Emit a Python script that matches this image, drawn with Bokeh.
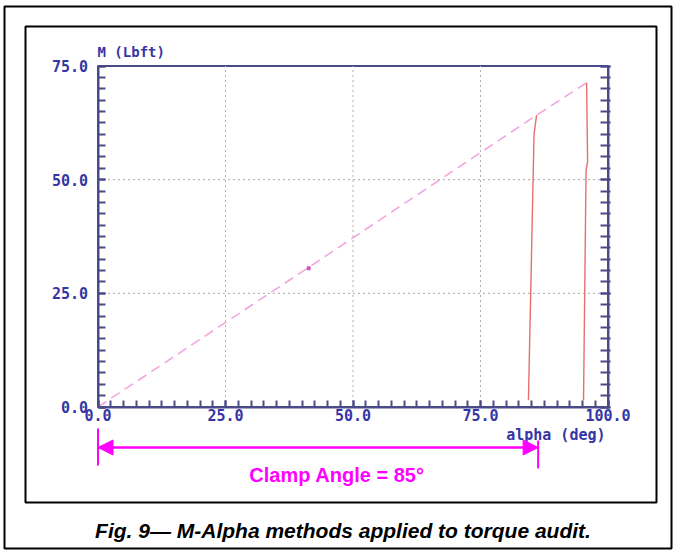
from bokeh.plotting import figure
from bokeh.models import (Range1d, SingleIntervalTicker, NumeralTickFormatter, LinearAxis,
                          Label, Arrow, NormalHead)
from bokeh.embed import file_html
from bokeh.resources import INLINE

# ---- data ----
alpha_ramp = [0.0, 41.3, 86.0, 95.8]          # dashed loading line
m_ramp = [0.0, 30.7, 64.2, 71.3]
alpha_clamp85 = [86.0, 85.5, 84.4]            # unloading at clamp angle ~85
m_clamp85 = [64.2, 60.0, 1.5]
alpha_clamp96 = [95.8, 96.0, 95.7, 95.2]      # unloading at full angle
m_clamp96 = [71.3, 54.0, 52.0, 1.5]
marker_alpha = [41.3]
marker_m = [30.5]
grid_alpha = [25.0, 50.0, 75.0]
grid_m = [25.0, 50.0]
alpha_limits = [0.0, 100.0]
m_limits = [0.0, 75.0]
clamp_start = 0.0
clamp_end = 86.3
x_label = "alpha (deg)"
y_label = "M (Lbft)"
clamp_text = "Clamp Angle = 85°"
caption = "Fig. 9— M-Alpha methods applied to torque audit."

# ---- layout (pixels) ----
W, H = 673, 550
PX_X0, PX_X1 = 97.5, 607.5      # alpha = 0 / 100
PX_Y0, PX_Y1 = 406.5, 65.5      # M = 0 / 75
sx = (PX_X1 - PX_X0) / (alpha_limits[1] - alpha_limits[0])
sy = (PX_Y0 - PX_Y1) / (m_limits[1] - m_limits[0])


def dx(px):
    return alpha_limits[0] + (px - PX_X0) / sx


def dy(py):
    return m_limits[0] + (PX_Y0 - py) / sy


NAVY = "#3535a5"
AXIS = "#4a4a88"
MAG = "#ff00ff"
MONO = "DejaVu Sans Mono"

p = figure(width=W, height=H, title=None,
           x_range=Range1d(dx(0), dx(W)), y_range=Range1d(dy(H), dy(0)),
           output_backend="svg", toolbar_location=None,
           min_border_left=0, min_border_right=0, min_border_top=0, min_border_bottom=0,
           background_fill_color="white", border_fill_color="white")
p.outline_line_color = None
p.xgrid.visible = False
p.ygrid.visible = False

xt = SingleIntervalTicker(interval=25, num_minor_ticks=10)
yt = SingleIntervalTicker(interval=25, num_minor_ticks=10)
fmt = NumeralTickFormatter(format="0.0")


def style_axis(ax):
    ax.axis_line_color = AXIS
    ax.axis_line_width = 2
    ax.major_tick_line_color = AXIS
    ax.minor_tick_line_color = AXIS
    ax.major_tick_line_width = 2
    ax.minor_tick_line_width = 2
    ax.major_tick_in = 7
    ax.major_tick_out = 0
    ax.minor_tick_in = 7
    ax.minor_tick_out = 0
    ax.major_label_text_font = MONO
    ax.major_label_text_font_style = "bold"
    ax.major_label_text_font_size = "15px"
    ax.major_label_text_color = NAVY


xa = p.xaxis[0]
ya = p.yaxis[0]
xa.ticker, xa.formatter = xt, fmt
ya.ticker, ya.formatter = yt, fmt
xa.fixed_location = m_limits[0]
ya.fixed_location = alpha_limits[0]
xa.bounds = tuple(alpha_limits)
ya.bounds = tuple(m_limits)
style_axis(xa)
style_axis(ya)
xa.major_label_standoff = 2
ya.major_label_standoff = 10
ya.major_label_text_baseline = "alphabetic"

ra = LinearAxis(ticker=SingleIntervalTicker(interval=25, num_minor_ticks=10),
                fixed_location=alpha_limits[1], bounds=tuple(m_limits))
style_axis(ra)
ra.major_label_text_color = None
ra.major_label_text_font_size = "0px"
ra.major_tick_in = 8
ra.minor_tick_in = 8
ra.major_tick_out = 2
ra.minor_tick_out = 2
p.add_layout(ra, "right")

# plot-area box (top edge)
p.quad(left=[alpha_limits[0]], right=[alpha_limits[1]], bottom=[m_limits[0]], top=[m_limits[1]],
       fill_color=None, line_color=AXIS, line_width=2)

# dotted grid
p.segment(x0=grid_alpha, y0=[m_limits[0]] * len(grid_alpha), x1=grid_alpha,
          y1=[m_limits[1]] * len(grid_alpha), line_color="#b0b0b0", line_dash="2 3", line_width=1)
p.segment(x0=[alpha_limits[0]] * len(grid_m), y0=grid_m, x1=[alpha_limits[1]] * len(grid_m),
          y1=grid_m, line_color="#a8a8a8", line_dash="2 3", line_width=1)

# data
p.line(alpha_ramp, m_ramp, line_color="#f3a6de", line_width=1.6, line_dash="10 6")
p.line(alpha_clamp85, m_clamp85, line_color="#e56f6f", line_width=1.4)
p.line(alpha_clamp96, m_clamp96, line_color="#e56f6f", line_width=1.4)
p.scatter(marker_alpha, marker_m, marker="square", size=3, color="#d050c0")

p.add_layout(Label(x=dx(97), y=dy(51.5), text=y_label, text_font=MONO, text_font_style="bold",
                   text_font_size="14px", text_color=NAVY, text_align="left",
                   text_baseline="middle"))
p.add_layout(Label(x=dx(605), y=dy(434), text=x_label, text_font=MONO, text_font_style="bold",
                   text_font_size="15px", text_color=NAVY, text_align="right",
                   text_baseline="middle"))

# clamp-angle dimension
p.add_layout(Arrow(x_start=clamp_start, y_start=dy(447), x_end=clamp_end, y_end=dy(447),
                   start=NormalHead(size=15, fill_color=MAG, line_color=MAG),
                   end=NormalHead(size=15, fill_color=MAG, line_color=MAG),
                   line_color=MAG, line_width=2.5))
p.segment(x0=[clamp_start, clamp_end], y0=[dy(428), dy(440)],
          x1=[clamp_start, clamp_end], y1=[dy(465), dy(468)], line_color=MAG, line_width=2)
p.add_layout(Label(x=dx(336.5), y=dy(474), text=clamp_text, text_font="Liberation Sans",
                   text_font_style="bold", text_font_size="20px", text_color=MAG,
                   text_align="center", text_baseline="alphabetic"))

# frames and caption
p.quad(left=[dx(25)], right=[dx(656)], top=[dy(26)], bottom=[dy(502)],
       fill_color=None, line_color="black", line_width=2)
p.quad(left=[dx(4)], right=[dx(671)], top=[dy(6)], bottom=[dy(548)],
       fill_color=None, line_color="black", line_width=2)
p.add_layout(Label(x=dx(342.5), y=dy(530), text=caption, text_font="Liberation Sans",
                   text_font_style="bold italic", text_font_size="21px", text_color="black",
                   text_align="center", text_baseline="alphabetic"))

open("out.html", "w").write(file_html(p, INLINE))
